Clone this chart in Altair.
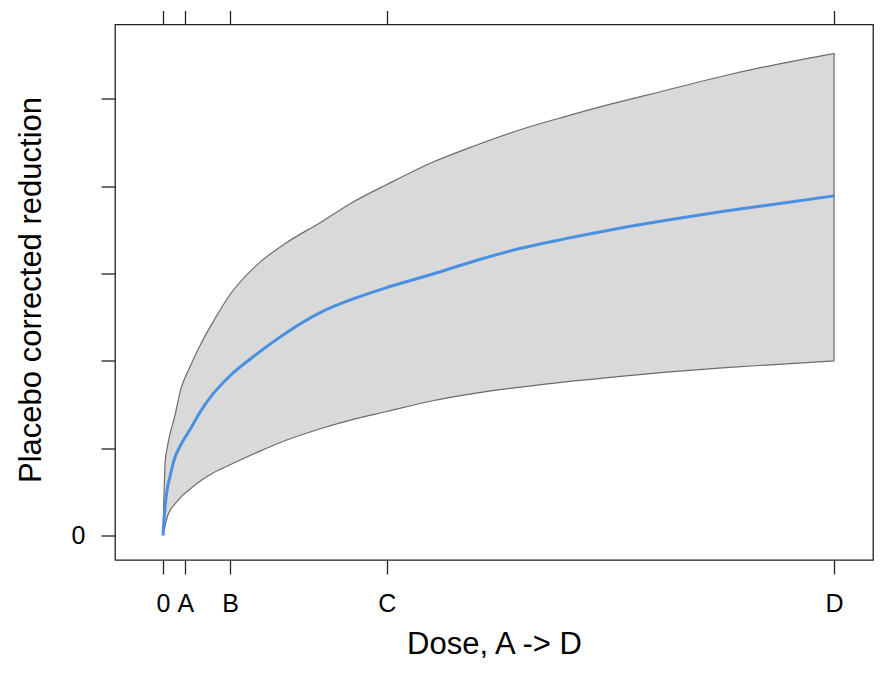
import altair as alt
import pandas as pd

# Values
dose = [0, 1, 2, 3, 5, 8, 12, 17, 22, 30, 42, 55, 70, 85, 100, 120, 140, 160,
        180, 200, 225, 250, 275, 300]
mean = [0.00, 0.35, 0.55, 0.66, 0.87, 1.04, 1.21, 1.43, 1.61, 1.83, 2.08, 2.32,
        2.55, 2.71, 2.84, 2.99, 3.15, 3.29, 3.40, 3.50, 3.61, 3.71, 3.80, 3.89]
lower = [0.00, 0.12, 0.22, 0.28, 0.35, 0.44, 0.53, 0.63, 0.71, 0.81, 0.95, 1.09,
         1.22, 1.33, 1.42, 1.54, 1.63, 1.70, 1.76, 1.81, 1.87, 1.92, 1.96, 2.00]
upper = [0.00, 0.85, 1.02, 1.15, 1.34, 1.68, 1.93, 2.20, 2.43, 2.76, 3.10, 3.35,
         3.58, 3.82, 4.02, 4.27, 4.47, 4.65, 4.80, 4.94, 5.10, 5.26, 5.40, 5.52]

x_tick_values = [0, 10, 30, 100, 300]
x_tick_labels = ["0", "A", "B", "C", "D"]
y_tick_values = [0, 1, 2, 3, 4, 5]
y_tick_labels = ["0", "", "", "", "", ""]

df = pd.DataFrame({"dose": dose, "mean": mean, "lower": lower, "upper": upper})


def label_expr(values, labels):
    expr = "''"
    for v, l in reversed(list(zip(values, labels))):
        expr = f"datum.value == {v} ? '{l}' : ({expr})"
    return expr


FONT = "Liberation Sans"
x_scale = alt.Scale(domain=[-21.46, 317.4], nice=False, zero=False)
y_scale = alt.Scale(domain=[-0.281, 5.853], nice=False, zero=False)

common_tick = dict(domain=False, grid=False, tickSize=14, tickColor="#222222",
                   tickWidth=1.3, labelFont=FONT, titleFont=FONT,
                   labelColor="#000000", titleColor="#000000",
                   labelOverlap=False, labelFlush=False, labelBound=False)

band = alt.Chart(df).mark_area(
    fill="#d9d9d9", stroke="#6b6b6b", strokeWidth=1.2, opacity=1,
    interpolate="monotone"
).encode(
    x=alt.X("dose:Q", scale=x_scale, axis=alt.Axis(
        orient="bottom", values=x_tick_values,
        labelExpr=label_expr(x_tick_values, x_tick_labels),
        labelFontSize=25, labelPadding=17,
        title="Dose, A -> D", titleFontSize=31, titleFontWeight="normal",
        titleBaseline="alphabetic", titleY=93, **common_tick)),
    y=alt.Y("lower:Q", scale=y_scale, axis=alt.Axis(
        orient="left", values=y_tick_values,
        labelExpr=label_expr(y_tick_values, y_tick_labels),
        labelFontSize=25, labelPadding=16, labelBaseline="middle",
        title="Placebo corrected reduction", titleFontSize=31,
        titleFontWeight="normal", titleBaseline="alphabetic",
        titleAngle=270, titleX=-75, titleY=265, titleAlign="center",
        **common_tick)),
    y2="upper:Q",
)

line = alt.Chart(df).mark_line(
    color="#4a90e2", strokeWidth=3, interpolate="monotone"
).encode(
    x=alt.X("dose:Q", scale=x_scale, axis=alt.Axis(
        orient="top", values=x_tick_values, labels=False, title="",
        **common_tick)),
    y=alt.Y("mean:Q", scale=y_scale, axis=None),
)

chart = alt.layer(band, line).resolve_axis(
    x="independent", y="independent"
).properties(
    width=758, height=535.5,
    autosize=alt.AutoSizeParams(type="none"),
    padding={"left": 107, "top": 16.5, "right": 1, "bottom": 102},
    background="white",
).configure_view(stroke="#222222", strokeWidth=1.3)

chart.save("out.html", embed_options={"renderer": "svg", "actions": False})
